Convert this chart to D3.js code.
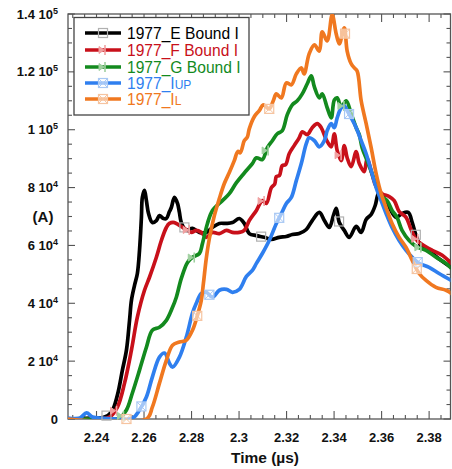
<!DOCTYPE html>
<html>
<head>
<meta charset="utf-8">
<script src="https://cdn.jsdelivr.net/npm/d3@7"></script>
<style>
  html, body { margin: 0; padding: 0; background: #fff; }
  svg { display: block; font-family: "Liberation Sans", Arial, Helvetica, sans-serif; }
</style>
</head>
<body>
<svg id="chart" width="452" height="469"></svg>
<script>
// ---------------- DATA ----------------
const seriesNames = ["1977_E Bound I", "1977_F Bound I", "1977_G Bound I", "1977_IUP", "1977_IL"];
const seriesColors = ["#000000", "#c8101a", "#138a1e", "#2f7fef", "#f07820"];
const markerColors = ["#b0b0b0", "#f0a0a0", "#a0d0a0", "#a8c8f4", "#f6c4a0"];

// [time (µs), current (A)]
const seriesE = [[2.2278,0],[2.2371,300],[2.2434,700],[2.2463,2400],[2.2488,8300],[2.2509,16900],[2.2526,23800],[2.2539,34100],[2.2547,41000],[2.2560,46200],[2.2572,50300],[2.2581,58300],[2.2589,69700],[2.2593,76600],[2.2602,79000],[2.2610,75500],[2.2619,71000],[2.2635,67900],[2.2652,68600],[2.2665,70300],[2.2682,69300],[2.2694,69300],[2.2707,71700],[2.2715,73100],[2.2728,76600],[2.2741,74500],[2.2749,71400],[2.2757,67900],[2.2778,65200],[2.2804,65900],[2.2833,64500],[2.2862,64500],[2.2888,66200],[2.2917,67600],[2.2947,67600],[2.2972,67900],[2.3001,69300],[2.3022,67600],[2.3043,64100],[2.3073,63400],[2.3106,62800],[2.3136,62100],[2.3169,62800],[2.3199,63100],[2.3224,63800],[2.3253,64100],[2.3283,65500],[2.3308,68600],[2.3338,71400],[2.3359,68600],[2.3380,66200],[2.3397,70300],[2.3409,72800],[2.3422,67900],[2.3443,65200],[2.3464,62800],[2.3493,66600],[2.3514,64500],[2.3535,69000],[2.3556,70700],[2.3573,73800],[2.3586,77900],[2.3594,78300],[2.3611,75900],[2.3632,73100],[2.3661,69700],[2.3686,71000],[2.3712,71400],[2.3729,67900],[2.3745,63400],[2.3762,60300],[2.3787,59000],[2.3829,56200],[2.3863,54100],[2.3893,52400]];

const seriesF = [[2.2278,0],[2.2413,0],[2.2455,700],[2.2488,4100],[2.2518,12400],[2.2547,23800],[2.2572,35200],[2.2602,44500],[2.2623,49000],[2.2652,55900],[2.2673,61700],[2.2694,66200],[2.2707,67600],[2.2728,67900],[2.2749,66900],[2.2770,65900],[2.2799,64500],[2.2820,65200],[2.2841,64500],[2.2862,62800],[2.2888,64500],[2.2917,64100],[2.2947,65200],[2.2972,64500],[2.3001,64500],[2.3022,65200],[2.3043,68600],[2.3073,72100],[2.3098,75500],[2.3115,74500],[2.3136,80000],[2.3150,81200],[2.3157,83800],[2.3170,84200],[2.3182,87600],[2.3196,87900],[2.3211,91700],[2.3232,94500],[2.3253,97200],[2.3266,99300],[2.3287,98300],[2.3308,100700],[2.3329,102100],[2.3346,100700],[2.3367,96600],[2.3388,94100],[2.3401,98600],[2.3413,92800],[2.3430,89300],[2.3443,94500],[2.3455,90300],[2.3472,87200],[2.3493,92400],[2.3506,88300],[2.3527,85500],[2.3539,90000],[2.3560,84500],[2.3577,80300],[2.3602,77900],[2.3632,76900],[2.3653,75500],[2.3674,71700],[2.3703,69700],[2.3724,65500],[2.3745,62100],[2.3771,60300],[2.3813,58300],[2.3855,56600],[2.3893,53800]];

const seriesG = [[2.2278,0],[2.2455,0],[2.2497,300],[2.2526,3100],[2.2551,9000],[2.2581,16900],[2.2610,24800],[2.2635,30700],[2.2665,31700],[2.2694,34100],[2.2720,38600],[2.2736,42100],[2.2757,48600],[2.2783,54100],[2.2804,55900],[2.2833,57200],[2.2846,60700],[2.2867,67600],[2.2888,72100],[2.2930,75500],[2.2959,77900],[2.2989,81700],[2.3031,85900],[2.3056,88300],[2.3073,90300],[2.3098,89700],[2.3119,93800],[2.3140,96200],[2.3161,98600],[2.3182,99700],[2.3203,105200],[2.3224,108600],[2.3245,110000],[2.3266,112400],[2.3287,115900],[2.3304,118600],[2.3317,114800],[2.3338,111000],[2.3350,112400],[2.3371,107600],[2.3388,104100],[2.3401,110300],[2.3413,111000],[2.3430,107900],[2.3451,110000],[2.3472,105500],[2.3493,100700],[2.3506,98300],[2.3518,93800],[2.3539,89300],[2.3560,84800],[2.3581,80000],[2.3602,76900],[2.3623,75500],[2.3644,72100],[2.3665,69700],[2.3686,65200],[2.3716,61700],[2.3745,59700],[2.3787,58300],[2.3829,55900],[2.3871,53800],[2.3893,52100]];

const seriesIUP = [[2.2278,300],[2.2329,300],[2.2358,2100],[2.2383,700],[2.2425,300],[2.2551,300],[2.2581,3100],[2.2610,7600],[2.2635,14500],[2.2665,21400],[2.2686,22800],[2.2707,19300],[2.2720,17900],[2.2749,21400],[2.2778,28300],[2.2804,36600],[2.2820,40000],[2.2841,43400],[2.2862,43800],[2.2888,42100],[2.2917,44500],[2.2947,44800],[2.2972,43800],[2.3001,44800],[2.3031,49300],[2.3056,51400],[2.3073,53800],[2.3098,57200],[2.3127,61700],[2.3157,67600],[2.3178,71000],[2.3199,74500],[2.3220,76600],[2.3241,82400],[2.3262,88300],[2.3283,95200],[2.3295,97200],[2.3317,96200],[2.3338,94100],[2.3359,96200],[2.3371,99700],[2.3388,102100],[2.3401,100700],[2.3413,104100],[2.3430,107600],[2.3443,108300],[2.3455,106600],[2.3472,104100],[2.3493,100700],[2.3514,96200],[2.3535,91700],[2.3556,85900],[2.3577,80000],[2.3598,75500],[2.3619,71000],[2.3644,66200],[2.3674,61700],[2.3703,58300],[2.3729,55900],[2.3758,53800],[2.3800,52400],[2.3842,50300],[2.3893,47900]];

const seriesIL = [[2.2278,0],[2.2610,0],[2.2635,4100],[2.2665,12400],[2.2694,20300],[2.2720,25500],[2.2749,26600],[2.2778,27200],[2.2804,30700],[2.2825,35900],[2.2841,41000],[2.2850,46900],[2.2862,55500],[2.2875,62400],[2.2896,70300],[2.2917,76200],[2.2938,81400],[2.2959,85200],[2.2980,89300],[2.2995,92500],[2.3005,92000],[2.3022,96200],[2.3035,97500],[2.3043,100300],[2.3064,104500],[2.3085,106600],[2.3102,108600],[2.3127,107200],[2.3144,110000],[2.3157,112400],[2.3178,111000],[2.3199,116200],[2.3220,115500],[2.3241,119300],[2.3262,121400],[2.3274,119300],[2.3295,126200],[2.3317,129300],[2.3338,127200],[2.3350,133800],[2.3371,130700],[2.3392,139700],[2.3409,133100],[2.3422,129700],[2.3443,135200],[2.3455,127200],[2.3472,122800],[2.3485,121400],[2.3497,120300],[2.3514,110000],[2.3535,102100],[2.3556,93800],[2.3577,84800],[2.3598,77900],[2.3619,73100],[2.3644,67600],[2.3674,62800],[2.3703,59300],[2.3729,54800],[2.3758,50300],[2.3787,47900],[2.3829,45500],[2.3871,44500],[2.3893,43400]];

// marker times along each series
const markersE = [2.2442, 2.2770, 2.3093, 2.3421, 2.3744];
const markersF = [2.2476, 2.2782, 2.3097, 2.3421, 2.3744];
const markersG = [2.2505, 2.2803, 2.3114, 2.3433, 2.3757];
const markersIUP = [2.2589, 2.2875, 2.3169, 2.3463, 2.3752];
const markersIL = [2.2526, 2.2824, 2.3127, 2.3446, 2.3748];

const xTickValues = [2.24, 2.26, 2.28, 2.30, 2.32, 2.34, 2.36, 2.38];
const xTickLabels = ["2.24", "2.26", "2.28", "2.3", "2.32", "2.34", "2.36", "2.38"];
const yTickValues = [0, 20000, 40000, 60000, 80000, 100000, 120000, 140000];
const yTickMantissa = ["0", "2", "4", "6", "8", "1", "1.2", "1.4"];
const yTickExponent = ["", "4", "4", "4", "4", "5", "5", "5"];

// ---------------- CHART ----------------
const svg = d3.select("#chart");
const L = 68, R = 450.5, T = 14, B = 419;
const x = d3.scaleLinear().domain([2.228, 2.389]).range([L, R]);
const y = d3.scaleLinear().domain([0, 140000]).range([B, T]);

const frameColor = "#555";

svg.append("clipPath").attr("id", "plotclip")
  .append("rect").attr("x", L).attr("y", T).attr("width", R - L).attr("height", B - T);

// frame
svg.append("rect").attr("x", L).attr("y", T).attr("width", R - L).attr("height", B - T)
  .attr("fill", "none").attr("stroke", frameColor).attr("stroke-width", 1.3);

// ticks (inward on all four sides)
const xMinor = d3.range(2.23, 2.3891, 0.005).filter(v => v >= 2.228);
const yMinor = d3.range(0, 140001, 5000);
const tickG = svg.append("g").attr("stroke", frameColor).attr("stroke-width", 1.1);
xMinor.forEach(v => {
  const isMajor = xTickValues.some(t => Math.abs(t - v) < 1e-6);
  const len = isMajor ? 8 : 4;
  const px = x(v);
  tickG.append("line").attr("x1", px).attr("x2", px).attr("y1", B).attr("y2", B - len);
  tickG.append("line").attr("x1", px).attr("x2", px).attr("y1", T).attr("y2", T + len);
});
yMinor.forEach(v => {
  const isMajor = yTickValues.some(t => Math.abs(t - v) < 1e-6);
  const len = isMajor ? 7 : 4;
  const py = y(v);
  tickG.append("line").attr("x1", L).attr("x2", L + len).attr("y1", py).attr("y2", py);
  tickG.append("line").attr("x1", R).attr("x2", R - len).attr("y1", py).attr("y2", py);
});

// x tick labels
xTickValues.forEach((v, i) => {
  svg.append("text").attr("x", x(v)).attr("y", 442)
    .attr("text-anchor", "middle").attr("font-weight", "bold").attr("font-size", 13)
    .attr("fill", "#111").text(xTickLabels[i]);
});
// y tick labels
yTickValues.forEach((v, i) => {
  const t = svg.append("text").attr("x", 58).attr("y", y(v) + 4.5)
    .attr("text-anchor", "end").attr("font-weight", "bold").attr("font-size", 13).attr("fill", "#111");
  if (yTickExponent[i] === "") {
    t.text(yTickMantissa[i]);
  } else {
    t.append("tspan").text(yTickMantissa[i] + " 10");
    t.append("tspan").attr("font-size", 9).attr("dy", -5).text(yTickExponent[i]);
  }
});

// axis titles
svg.append("text").attr("x", 265).attr("y", 463).attr("text-anchor", "middle")
  .attr("font-weight", "bold").attr("font-size", 15.5).attr("fill", "#111").text("Time (\u00b5s)");
svg.append("text").attr("x", 43).attr("y", 222).attr("text-anchor", "middle")
  .attr("font-weight", "bold").attr("font-size", 15).attr("fill", "#111").text("(A)");

// series
const allSeries = [seriesE, seriesF, seriesG, seriesIUP, seriesIL];
const allMarkers = [markersE, markersF, markersG, markersIUP, markersIL];
const line = d3.line().x(d => x(d[0])).y(d => y(d[1])).curve(d3.curveCatmullRom.alpha(0.5));

const plotG = svg.append("g").attr("clip-path", "url(#plotclip)");
allSeries.forEach((s, i) => {
  plotG.append("path").datum(s).attr("d", line)
    .attr("fill", "none").attr("stroke", seriesColors[i]).attr("stroke-width", 3.7)
    .attr("stroke-linejoin", "round").attr("stroke-linecap", "round");
});

function valueAt(s, t) {
  for (let k = 0; k < s.length - 1; k++) {
    if (t >= s[k][0] && t <= s[k + 1][0]) {
      const f = (t - s[k][0]) / (s[k + 1][0] - s[k][0]);
      return s[k][1] + f * (s[k + 1][1] - s[k][1]);
    }
  }
  return s[s.length - 1][1];
}

function drawMarker(g, kind, cx, cy, color) {
  const h = 4.5;
  if (kind === 0) {
    g.append("rect").attr("x", cx - h).attr("y", cy - h).attr("width", 2 * h).attr("height", 2 * h)
      .attr("fill", "none").attr("stroke", color).attr("stroke-width", 1.2);
  } else if (kind === 1 || kind === 2) {
    g.append("path").attr("d", `M${cx - 4},${cy - 3.5}L${cx + 1},${cy}L${cx - 4},${cy + 3.5}Z`)
      .attr("fill", color).attr("stroke", color).attr("stroke-width", 1);
    g.append("line").attr("x1", cx + 2).attr("x2", cx + 2).attr("y1", cy - 5).attr("y2", cy + 5)
      .attr("stroke", color).attr("stroke-width", 1.6);
  } else {
    g.append("rect").attr("x", cx - h).attr("y", cy - h).attr("width", 2 * h).attr("height", 2 * h)
      .attr("fill", "rgba(255,255,255,0.55)").attr("stroke", color).attr("stroke-width", 1.2);
    g.append("path").attr("d", `M${cx - h},${cy - h}L${cx + h},${cy + h}M${cx + h},${cy - h}L${cx - h},${cy + h}`)
      .attr("stroke", color).attr("stroke-width", 1);
  }
}

const markG = svg.append("g");
allMarkers.forEach((ms, i) => {
  ms.forEach(t => {
    drawMarker(markG, i, x(t), y(valueAt(allSeries[i], t)), markerColors[i]);
  });
});

// legend
const lg = svg.append("g");
lg.append("rect").attr("x", 74).attr("y", 17.5).attr("width", 175).attr("height", 97.5)
  .attr("fill", "#fff").attr("stroke", "#444").attr("stroke-width", 1.3);
const rowY = [33, 50, 67, 83, 99];
seriesNames.forEach((name, i) => {
  const yy = rowY[i];
  lg.append("line").attr("x1", 85).attr("x2", 121).attr("y1", yy).attr("y2", yy)
    .attr("stroke", seriesColors[i]).attr("stroke-width", 3.6);
  drawMarker(lg, i, 103, yy, markerColors[i]);
  const t = lg.append("text").attr("x", 127).attr("y", yy + 5.6)
    .attr("font-size", 15.6).attr("fill", seriesColors[i]);
  if (i === 3) {
    t.append("tspan").text("1977_I");
    t.append("tspan").attr("font-size", 12).text("UP");
  } else if (i === 4) {
    t.append("tspan").text("1977_I");
    t.append("tspan").attr("font-size", 12).text("L");
  } else {
    t.text(name);
  }
});
</script>
</body>
</html>
